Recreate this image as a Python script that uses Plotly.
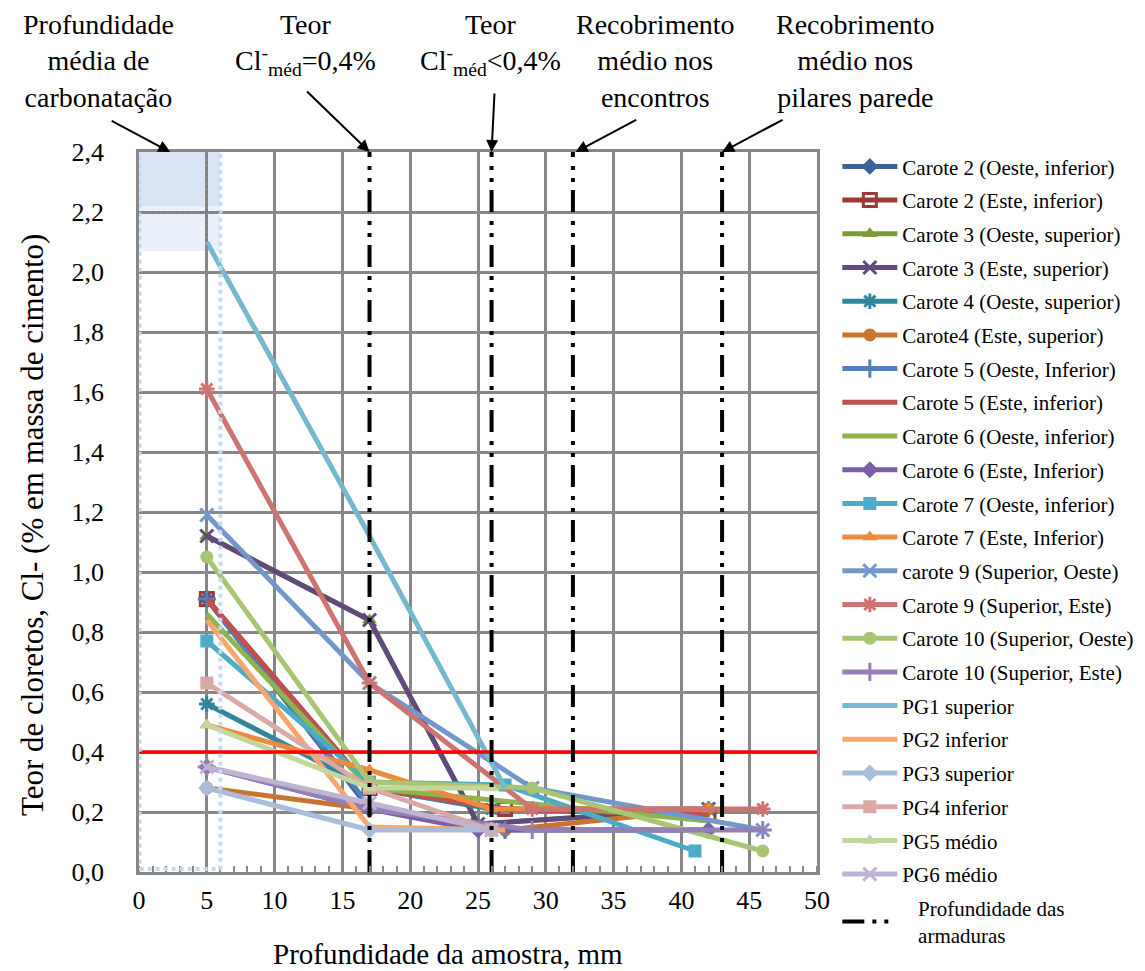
import plotly.graph_objects as go

# ---------------- data ----------------
names = [
    "Carote 2 (Oeste, inferior)", "Carote 2 (Este, inferior)", "Carote 3 (Oeste, superior)",
    "Carote 3 (Este, superior)", "Carote 4 (Oeste, superior)", "Carote4 (Este, superior)",
    "Carote 5 (Oeste, Inferior)", "Carote 5 (Este, inferior)", "Carote 6 (Oeste, inferior)",
    "Carote 6 (Este, Inferior)", "Carote 7 (Oeste, inferior)", "Carote 7 (Este, Inferior)",
    "carote 9 (Superior, Oeste)", "Carote 9 (Superior, Este)", "Carote 10 (Superior, Oeste)",
    "Carote 10 (Superior, Este)", "PG1 superior", "PG2 inferior", "PG3 superior",
    "PG4 inferior", "PG5 médio", "PG6 médio",
]
depths = [
    [5, 17, 27], [5, 17, 27, 42], [5, 17, 25, 42], [5, 17, 25, 42], [5, 17, 26, 42],
    [5, 17, 27, 42], [5, 17, 27, 42], [5, 17, 27, 42], [5, 17, 26, 42], [5, 17, 25, 42],
    [5, 17, 27, 41], [5, 17, 26, 42], [5, 17, 29, 46], [5, 17, 29, 46], [5, 17, 29, 46],
    [5, 17, 29, 46], [5, 17, 27], [5, 17, 27], [5, 17, 26], [5, 17, 26], [5, 17, 26],
    [5, 17, 26],
]
chlorides = [
    [0.91, 0.21, 0.14], [0.91, 0.28, 0.21, 0.19], [1.12, 0.84, 0.16, 0.21],
    [1.12, 0.84, 0.16, 0.21], [0.56, 0.28, 0.21, 0.21], [0.28, 0.21, 0.14, 0.21],
    [0.91, 0.22, 0.14, 0.14], [0.91, 0.28, 0.21, 0.19], [0.86, 0.28, 0.24, 0.17],
    [0.35, 0.21, 0.14, 0.14], [0.77, 0.30, 0.29, 0.07], [0.49, 0.34, 0.21, 0.21],
    [1.19, 0.63, 0.28, 0.14], [1.61, 0.63, 0.21, 0.21], [1.05, 0.30, 0.28, 0.07],
    [0.35, 0.21, 0.14, 0.14], [2.10, 1.12, 0.28], [0.84, 0.15, 0.14], [0.28, 0.14, 0.14],
    [0.63, 0.28, 0.14], [0.49, 0.28, 0.28], [0.35, 0.23, 0.14],
]
rebar_depths = [17, 26, 32, 43]
chloride_limit = 0.4
carbonation_depth = 6
x_ticks = [0, 5, 10, 15, 20, 25, 30, 35, 40, 45, 50]
y_ticks = [0.0, 0.2, 0.4, 0.6, 0.8, 1.0, 1.2, 1.4, 1.6, 1.8, 2.0, 2.2, 2.4]

# ---------------- styles ----------------
colors = [
    "#3B6396", "#9B3B38", "#7A9A3C", "#604A7B", "#31859C", "#C77530",
    "#4F81BD", "#C0504D", "#8DB44E", "#7B5EA7", "#4BACC6", "#EE8A3C",
    "#7396CB", "#CD7371", "#A8C671", "#9580B5", "#76B8D0", "#F9A56F",
    "#A9BCD9", "#DBA8A8", "#C3D69B", "#BFB3D2",
]
symbols = [
    "diamond", "square-open", "triangle-up", "x-thin-open", "asterisk-open", "circle",
    "cross-thin-open", None, None, "diamond", "square", "triangle-up",
    "x-thin-open", "asterisk-open", "circle", "cross-thin-open", None, None,
    "diamond", "square", "triangle-up", "x-thin-open",
]

FONT = "'Liberation Serif', 'DejaVu Serif', serif"
fig = go.Figure()

for i, (n, xs, ys) in enumerate(zip(names, depths, chlorides)):
    sym = symbols[i]
    mode = "lines+markers" if sym else "lines"
    mk = dict(symbol=sym or "circle", size=13, color=colors[i],
              line=dict(color=colors[i], width=3 if ("open" in (sym or "")) else 0))
    fig.add_trace(go.Scatter(
        x=xs, y=ys, name=n, mode=mode, legendgroup=f"g{i}",
        line=dict(color=colors[i], width=5), marker=mk,
    ))

# chloride threshold line
fig.add_trace(go.Scatter(x=[0, 50], y=[chloride_limit, chloride_limit], mode="lines",
                         line=dict(color="#FF0000", width=3.5), showlegend=False,
                         hoverinfo="skip"))

# rebar depth lines
for j, d in enumerate(rebar_depths):
    fig.add_trace(go.Scatter(
        x=[d, d], y=[0, 2.4], mode="lines",
        name="   Profundidade das<br>   armaduras", legendgroup="rebar",
        showlegend=(j == 0),
        line=dict(color="black", width=4, dash="22px,8px,4px,8px,4px,9px"),
    ))

# carbonation zone
fig.add_shape(type="rect", xref="x", yref="y", x0=-0.3, x1=carbonation_depth, y0=2.22, y1=2.41,
              fillcolor="rgba(200,215,240,0.7)", line=dict(width=0), layer="below")
fig.add_shape(type="rect", xref="x", yref="y", x0=-0.3, x1=carbonation_depth, y0=2.07, y1=2.22,
              fillcolor="rgba(214,226,246,0.5)", line=dict(width=0), layer="below")
fig.add_shape(type="rect", xref="x", yref="y", x0=0.05, x1=carbonation_depth, y0=0.01, y1=2.41,
              fillcolor="rgba(0,0,0,0)", line=dict(color="#C6D9F1", width=4, dash="dot"))
fig.add_shape(type="line", xref="x", yref="y", x0=5, x1=5, y0=2.08, y1=2.4,
              line=dict(color="#777777", width=1, dash="dot"))
fig.add_shape(type="line", xref="x", yref="y", x0=0, x1=6, y0=2.2, y1=2.2,
              line=dict(color="#777777", width=1, dash="dot"))

# top annotations
def px(X):
    return (X - 139) / 678

def py(Y):
    return (872 - Y) / 720

ann_font = dict(family=FONT, size=28, color="black")
texts = [
    (98, "Profundidade<br>média de<br>carbonatação"),
    (305, "Teor<br>Cl<sup>-</sup><sub>méd</sub>=0,4%"),
    (490, "Teor<br>Cl<sup>-</sup><sub>méd</sub><0,4%"),
    (655, "Recobrimento<br>médio nos<br>encontros"),
    (855, "Recobrimento<br>médio nos<br>pilares parede"),
]
for X, t in texts:
    fig.add_annotation(x=px(X), y=py(7), xref="paper", yref="paper", text=t,
                       showarrow=False, xanchor="center", yanchor="top",
                       font=ann_font, align="center")

arrows = [  # (head x in data units, tail offset px)
    (2.3, -60, -32),
    (17, -64, -62),
    (26, 3, -60),
    (32.2, 62, -33),
    (43, 62, -33),
]
for hx, ax, ay in arrows:
    fig.add_annotation(x=hx, y=2.4, xref="x", yref="y", text="", showarrow=True,
                       ax=ax, ay=ay, arrowhead=2, arrowsize=1.2, arrowwidth=2,
                       arrowcolor="black")

# axis titles (placed as in the reference)
fig.add_annotation(x=px(448), y=py(954), xref="paper", yref="paper",
                   text="Profundidade da amostra, mm", showarrow=False,
                   xanchor="center", yanchor="middle", font=dict(family=FONT, size=29))
fig.add_annotation(x=px(32), y=py(525), xref="paper", yref="paper",
                   text="Teor de cloretos, Cl- (% em massa de cimento)", showarrow=False,
                   textangle=-90, xanchor="center", yanchor="middle",
                   font=dict(family=FONT, size=31))

fig.update_layout(
    width=1145, height=971, autosize=False,
    margin=dict(l=139, r=328, t=152, b=99, autoexpand=False),
    paper_bgcolor="white", plot_bgcolor="white",
    separators=",.",
    font=dict(family=FONT, size=26, color="black"),
    showlegend=True,
    legend=dict(x=1.03, y=1.008, xanchor="left", yanchor="top",
                font=dict(family=FONT, size=21, color="black"),
                tracegroupgap=3.4, itemwidth=55, bgcolor="rgba(0,0,0,0)",
                maxheight=900),
    xaxis=dict(range=[0, 50], tickvals=x_ticks, showgrid=True, gridcolor="#878787",
               gridwidth=2.5, showline=True, linecolor="#878787", linewidth=2.5, mirror=True,
               zeroline=False, ticks="", ticklabelstandoff=3,
               tickfont=dict(family=FONT, size=26),
               minor=dict(dtick=1, ticks="inside", ticklen=6, tickcolor="#878787",
                          tickwidth=1.5, showgrid=False)),
    yaxis=dict(range=[0, 2.4], tickvals=y_ticks, tickformat=".1f", showgrid=True,
               gridcolor="#878787", gridwidth=2.5, showline=True, linecolor="#878787",
               linewidth=2.5, mirror=True, zeroline=False, ticks="", ticklabelstandoff=27,
               tickfont=dict(family=FONT, size=26)),
)

fig.write_html("out.html")
